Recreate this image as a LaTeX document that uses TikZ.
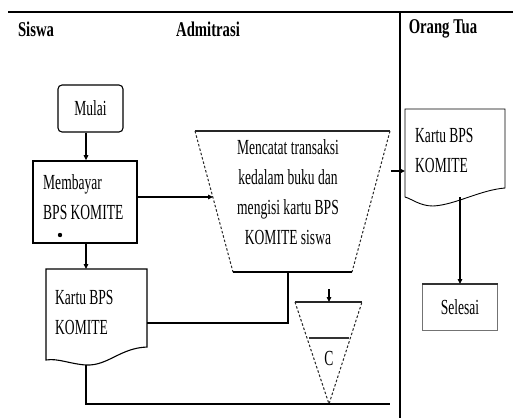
\documentclass[tikz,border=0pt]{standalone}
\usepackage{fontspec}
\setmainfont{Liberation Serif}
\newfontfamily\cf[FakeStretch=0.63]{Liberation Serif}
\newfontfamily\hf[FakeStretch=0.7]{Liberation Serif}
\usetikzlibrary{arrows.meta,calc}
\begin{document}
\begin{tikzpicture}[x=1pt,y=-1pt,
  line/.style={line width=1.1pt, black},
  thick line/.style={line width=2.4pt, black!85},
  arr/.style={line, -{Triangle[length=5pt,width=4.5pt]}},
  txt/.style={font=\cf\fontsize{21.5}{30}\selectfont, inner sep=0pt},
  hdr/.style={font=\hf\bfseries\fontsize{21}{22}\selectfont, inner sep=0pt},
  dsh/.style={line width=1pt, dash pattern=on 2.5pt off 2pt, black!85},
]
\useasboundingbox (0,0) rectangle (513,418);
\fill[white] (0,0) rectangle (513,418);

% swimlane frame
\coordinate (topL) at (8,12);
\coordinate (topR) at (513,12);
\coordinate (divT) at (400,12);
\coordinate (divB) at (400,418);
\draw[line width=2pt] (topL) -- (topR);
\draw[line width=1.5pt] (divT) -- (divB);

% headers
\node[hdr] (h1) at (36,29) {Siswa};
\node[hdr] (h2) at (208,29) {Admitrasi};
\node[hdr] (h3) at (443,29) {Orang Tua};

% Mulai
\node[draw, line width=1.1pt, rounded corners=4pt, minimum width=65pt, minimum height=47pt, txt] (mulai) at (90.5,108.5) {Mulai};

% Membayar
\node[draw, line width=1.6pt, minimum width=104pt, minimum height=82pt] (bayar) at (85,202) {};
\node[txt, anchor=west, align=left] (bayartxt) at (43,197) {Membayar\\BPS KOMITE};
\fill (60,235) circle (2.2pt);

% Kartu BPS (Siswa)
\coordinate (d1tl) at (46,269);
\coordinate (d1tr) at (147,269);
\coordinate (d1top) at (86,269);
\coordinate (d1bot) at (86,365);
\coordinate (d1east) at (147,323);
\draw[line] (d1tl) -- (d1tr) -- (147,347) .. controls (120,348) and (108,366) .. (d1bot) .. controls (70,364) and (58,358) .. (46,360) -- cycle;
\node[txt, anchor=west, align=left] (doc1) at (55,312) {Kartu BPS\\KOMITE};

% Manual operation (trapezoid)
\coordinate (tTL) at (195,131);
\coordinate (tTR) at (390,131);
\coordinate (tBL) at (233,272);
\coordinate (tBR) at (352,272);
\coordinate (tin) at (213,197);
\coordinate (tout) at (288,272);
\draw[dsh] (tTL) -- (tBL);
\draw[dsh] (tTR) -- (tBR);
\draw[line] (tBL) -- (tBR);
\draw[thick line] (tTL) -- (tTR);
\node[txt, align=center] (catat) at (288,192) {Mencatat transaksi\\kedalam buku dan\\mengisi kartu BPS\\KOMITE siswa};

% Offline storage
\coordinate (sTL) at (295,302);
\coordinate (sTR) at (362,302);
\coordinate (sApex) at (329,404);
\coordinate (sTop) at (329,302);
\coordinate (sIn) at (329,289);
\draw[dsh] (sTL) -- (sApex) -- (sTR);
\draw[thick line] (sTL) -- (sTR);
\draw[line width=2pt, black!80] (309,338) -- (349,338);
\node[txt] (store) at (329,358) {C};

% Kartu BPS (Orang Tua)
\coordinate (d2tl) at (405,109);
\coordinate (d2tr) at (505,109);
\coordinate (d2west) at (405,171);
\coordinate (d2bot) at (460,197);
\draw[line width=0.9pt] (d2tl) -- (d2tr) -- (505,188) .. controls (480,190) and (455,205) .. (433,206) .. controls (420,206) and (412,199) .. (405,197) -- cycle;
\node[txt, anchor=west, align=left] (doc2) at (415,150) {Kartu BPS\\KOMITE};

% Selesai
\node[draw=black!55, line width=1pt, minimum width=75pt, minimum height=46pt, txt] (selesai) at (460,307.5) {Selesai};
\draw[line width=2pt, black!80] (selesai.north west) -- (selesai.north east);

% connectors
\coordinate (bot1) at (86,404);
\coordinate (botR) at (390,404);
\coordinate (mid1) at (288,323);
\coordinate (arrIn) at (391,171);
\draw[arr] (mulai.south -| d1top) -- (bayar.north -| d1top);
\draw[arr] (bayar.south -| d1top) -- (d1top);
\draw[arr] (bayar.east |- tin) -- (tin);
\draw[line] (tout) -- (mid1) -- (d1east);
\draw[line] (d1bot) -- (bot1) -- (botR);
\draw[arr] (sIn) -- (sTop);
\draw[arr] (arrIn) -- (d2west);
\draw[arr] (d2bot) -- (selesai.north -| d2bot);
\end{tikzpicture}
\end{document}
